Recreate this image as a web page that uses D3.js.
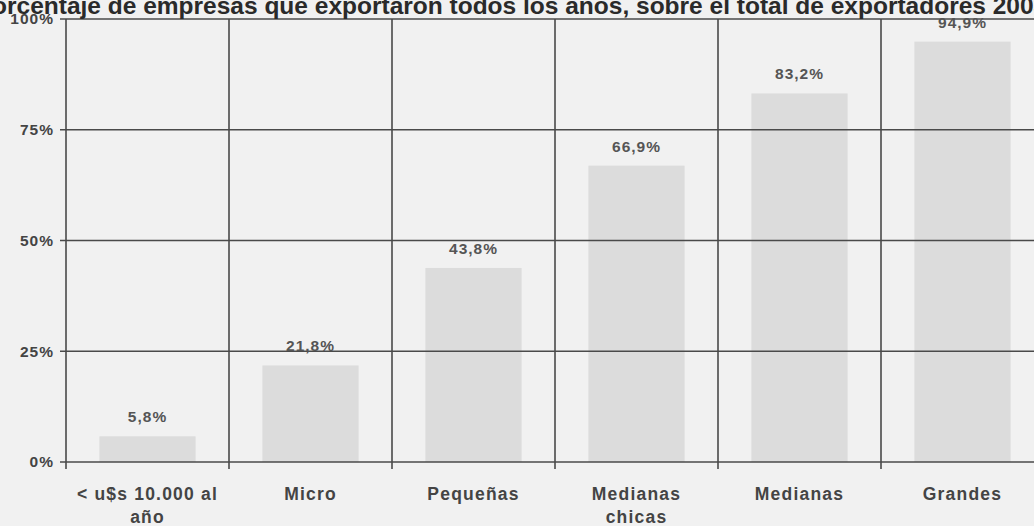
<!DOCTYPE html>
<html>
<head>
<meta charset="utf-8">
<script src="https://cdn.jsdelivr.net/npm/d3@7"></script>
<style>
  body { margin: 0; background: #f1f1f1; }
  svg { display: block; font-family: "Liberation Sans", Arial, sans-serif; }
</style>
</head>
<body>
<svg id="chart" width="1034" height="526"></svg>
<script>
// Data
var categories = [["< u$s 10.000 al", "año"], ["Micro"], ["Pequeñas"], ["Medianas", "chicas"], ["Medianas"], ["Grandes"]];
var values = [5.8, 21.8, 43.8, 66.9, 83.2, 94.9];
var yTicks = [0, 25, 50, 75, 100];
var title = "Porcentaje de empresas que exportaron todos los años, sobre el total de exportadores 2003";

var svg = d3.select("#chart"),
    margin = {top: 19, left: 66, bottom: 64},
    height = +svg.attr("height") - margin.top - margin.bottom,
    width = 163 * categories.length;

svg.append("rect")
    .attr("width", 1034).attr("height", 526)
    .attr("fill", "#f1f1f1");

var x = d3.scaleBand()
    .domain(d3.range(categories.length))
    .range([0, width])
    .paddingInner(0.41)
    .paddingOuter(0.205);

var y = d3.scaleLinear().domain([0, 100]).range([height, 0]);

var g = svg.append("g").attr("transform", "translate(" + margin.left + "," + margin.top + ")");

// Bars
g.selectAll(".bar")
    .data(values)
    .enter().append("rect")
    .attr("class", "bar")
    .attr("x", function (d, i) { return x(i); })
    .attr("y", function (d) { return y(d); })
    .attr("width", x.bandwidth())
    .attr("height", function (d) { return height - y(d); })
    .attr("fill", "#dcdcdc");

// Horizontal gridlines
g.selectAll(".hgrid")
    .data(yTicks)
    .enter().append("line")
    .attr("x1", -6).attr("x2", width)
    .attr("y1", function (d) { return y(d); })
    .attr("y2", function (d) { return y(d); })
    .attr("stroke", "#4a4a4a")
    .attr("stroke-width", 1.6);

// Vertical gridlines (category boundaries)
var step = width / categories.length;
g.selectAll(".vgrid")
    .data(d3.range(categories.length + 1))
    .enter().append("line")
    .attr("x1", function (d) { return d * step; })
    .attr("x2", function (d) { return d * step; })
    .attr("y1", 0).attr("y2", height + 7)
    .attr("stroke", "#4a4a4a")
    .attr("stroke-width", 1.6);

// Y tick labels
g.selectAll(".ylab")
    .data(yTicks)
    .enter().append("text")
    .attr("x", -12)
    .attr("y", function (d) { return y(d); })
    .attr("dy", "0.35em")
    .attr("text-anchor", "end")
    .attr("font-size", 15.5)
    .attr("font-weight", "bold")
    .attr("letter-spacing", 1)
    .attr("fill", "#444")
    .text(function (d) { return d + "%"; });

// Value labels
g.selectAll(".vlab")
    .data(values)
    .enter().append("text")
    .attr("x", function (d, i) { return x(i) + x.bandwidth() / 2; })
    .attr("y", function (d) { return y(d) - 14; })
    .attr("text-anchor", "middle")
    .attr("font-size", 15.5)
    .attr("font-weight", "bold")
    .attr("letter-spacing", 1)
    .attr("fill", "#555")
    .text(function (d) { return d.toFixed(1).replace(".", ",") + "%"; });

// Category labels
var cl = g.selectAll(".clab")
    .data(categories)
    .enter().append("text")
    .attr("text-anchor", "middle")
    .attr("font-size", 17.5)
    .attr("font-weight", "bold")
    .attr("letter-spacing", 1.2)
    .attr("fill", "#444");
cl.each(function (lines, i) {
    var t = d3.select(this);
    lines.forEach(function (s, j) {
        t.append("tspan")
            .attr("x", (i + 0.5) * step)
            .attr("y", height + 38 + j * 23)
            .text(s);
    });
});

// Title (cropped at top and sides like the reference)
var tt = svg.append("text")
    .attr("y", 14)
    .attr("font-size", 24.5)
    .attr("font-weight", "bold")
    .attr("fill", "#2a2a2a")
    .text(title);
var pw = tt.node().getSubStringLength(0, 2);
tt.attr("x", 7 - pw);
</script>
</body>
</html>
